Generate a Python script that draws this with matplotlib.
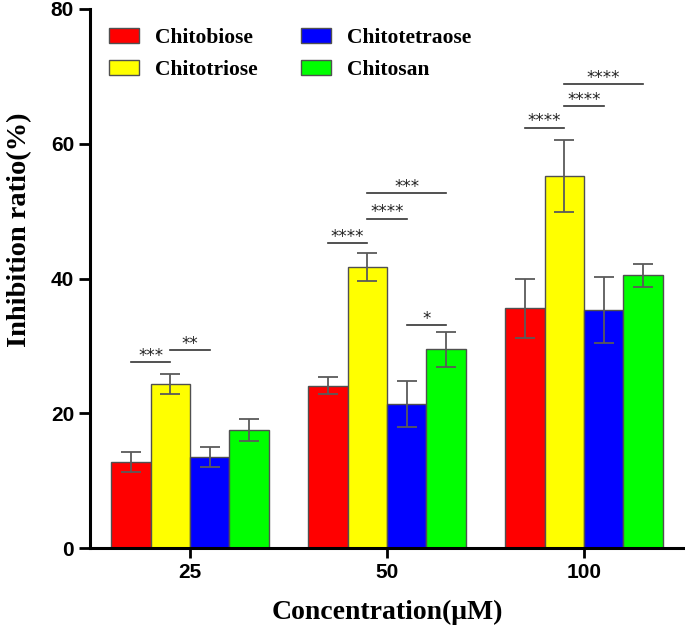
import numpy as np
from matplotlib import pyplot as plt

# Konsentrasjoner og serier
konsentrasjoner = ['25', '50', '100']
navn = ['Chitobiose', 'Chitotriose', 'Chitotetraose', 'Chitosan']
farger = ['#ff0000', '#ffff00', '#0000ff', '#00ff00']

chitobiose = [12.8, 24.1, 35.6]
chitotriose = [24.3, 41.7, 55.2]
chitotetraose = [13.5, 21.4, 35.3]
chitosan = [17.5, 29.5, 40.5]

chitobiose_err = [1.5, 1.3, 4.4]
chitotriose_err = [1.5, 2.1, 5.3]
chitotetraose_err = [1.5, 3.4, 4.9]
chitosan_err = [1.6, 2.6, 1.7]

# (gruppe, søyle a, søyle b, høyde, stjerner)
signifikans = [
    (0, 0, 1, 27.6, '***'),
    (0, 1, 2, 29.4, '**'),
    (1, 0, 1, 45.3, '****'),
    (1, 1, 2, 48.9, '****'),
    (1, 1, 3, 52.7, '***'),
    (1, 2, 3, 33.1, '*'),
    (2, 0, 1, 62.4, '****'),
    (2, 1, 2, 65.6, '****'),
    (2, 1, 3, 68.8, '****'),
]

verdier = [chitobiose, chitotriose, chitotetraose, chitosan]
feil = [chitobiose_err, chitotriose_err, chitotetraose_err, chitosan_err]

bredde = 0.2
forskyvning = [-0.3, -0.1, 0.1, 0.3]
x = np.arange(len(konsentrasjoner))

fig = plt.figure(figsize=(6.85, 6.29), dpi=100)
ax = fig.add_axes([90/685, 81/629, 595/685, 539/629])

for i in range(4):
    ax.bar(x + forskyvning[i], verdier[i], bredde, color=farger[i],
           edgecolor='#505050', linewidth=1.0, label=navn[i], zorder=2)
    ax.errorbar(x + forskyvning[i], verdier[i], yerr=feil[i], fmt='none',
                ecolor='#5a5a5a', elinewidth=1.3, capsize=7, capthick=1.3,
                zorder=3)

for g, a, b, h, tekst in signifikans:
    x1 = x[g] + forskyvning[a]
    x2 = x[g] + forskyvning[b]
    ax.plot([x1, x2], [h, h], color='#333333', linewidth=1.2, zorder=3)
    ax.annotate(tekst, xy=((x1 + x2) / 2, h), xytext=(0, -2),
                textcoords='offset points', ha='center', va='bottom',
                fontsize=12, color='#222222', family='DejaVu Sans')

ax.set_xlim(-0.508, 2.513)
ax.set_ylim(0, 80)
ax.set_xticks(x)
ax.set_xticklabels(konsentrasjoner)
ax.set_yticks([0, 20, 40, 60, 80])

for s in ['top', 'right']:
    ax.spines[s].set_visible(False)
for s in ['left', 'bottom']:
    ax.spines[s].set_linewidth(2.2)
ax.tick_params(axis='y', length=8, width=2)
ax.tick_params(axis='x', length=7, width=2)
for lab in ax.get_xticklabels() + ax.get_yticklabels():
    lab.set_family('Liberation Sans')
    lab.set_fontweight('bold')
    lab.set_fontsize(15)

ax.set_xlabel('Concentration(μM)', family='Liberation Serif',
              fontweight='bold', fontsize=20, labelpad=13)
ax.set_ylabel('Inhibition ratio(%)', family='Liberation Serif',
              fontweight='bold', fontsize=20.5)
ax.yaxis.set_label_coords(-0.098, 0.59)

ax.legend(loc='upper left', bbox_to_anchor=(0.032, 0.964), ncol=2,
          frameon=False, borderpad=0, borderaxespad=0,
          handlelength=1.4, handleheight=0.7, handletextpad=0.75,
          columnspacing=2.0, labelspacing=0.55,
          prop={'family': 'Liberation Serif', 'weight': 'bold', 'size': 15.5})

plt.savefig('out.png', dpi=100)
